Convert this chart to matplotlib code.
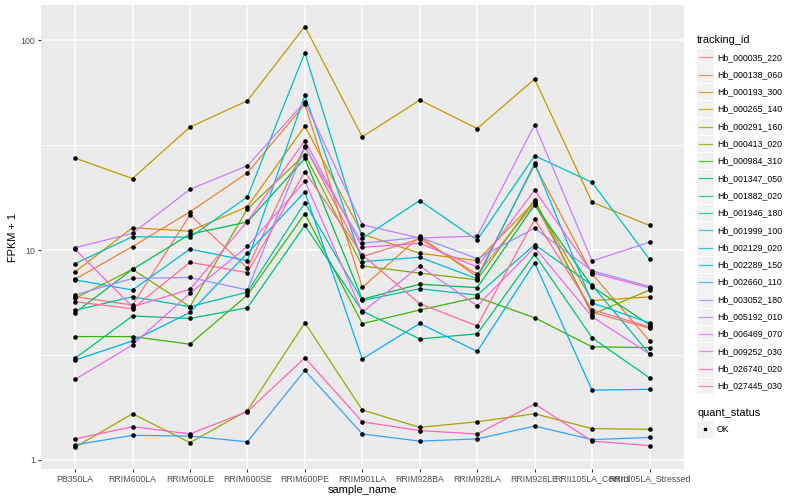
import numpy as np
import matplotlib.pyplot as plt
from matplotlib.lines import Line2D
from matplotlib.patches import Rectangle

plt.rcParams['font.family'] = ['Liberation Sans', 'DejaVu Sans']

samples = ['PB350LA', 'RRIM600LA', 'RRIM600LE', 'RRIM600SE', 'RRIM600PE',
           'RRIM901LA', 'RRIM928BA', 'RRIM928LA', 'RRIM928LE',
           'RRII105LA_Control', 'RRII105LA_Stressed']

# FPKM + 1 per gene, one value per sample
hb_000035_220 = [5.99, 5.47, 14.7, 8.2, 31.3, 9.3, 11.3, 7.67, 16.7, 5.05, 4.24]
hb_000138_060 = [7.25, 10.39, 15.2, 23.3, 49.5, 6.64, 11.6, 7.45, 25.4, 7.7, 3.69]
hb_000193_300 = [7.88, 12.77, 12.3, 16.1, 38.9, 11.9, 9.65, 8.9, 17.0, 5.74, 5.98]
hb_000265_140 = [27.4, 21.9, 38.5, 51.4, 116, 34.6, 51.8, 37.9, 65.2, 16.9, 13.1]
hb_000291_160 = [1.15, 1.66, 1.21, 1.72, 4.5, 1.73, 1.43, 1.52, 1.66, 1.41, 1.40]
hb_000413_020 = [5.89, 8.09, 5.37, 15.7, 28.5, 8.4, 7.76, 7.21, 17.4, 4.93, 6.45]
hb_000984_310 = [3.87, 3.87, 3.56, 6.1, 14.9, 4.46, 5.18, 5.95, 4.76, 3.46, 3.43]
hb_001347_050 = [5.03, 8.09, 11.9, 13.6, 27.3, 5.83, 6.87, 6.62, 16.4, 6.7, 4.4]
hb_001882_020 = [3.05, 4.85, 4.72, 5.31, 13.1, 5.12, 3.77, 3.99, 9.54, 3.82, 2.46]
hb_001946_180 = [5.16, 5.99, 5.37, 6.3, 16.8, 5.75, 6.54, 6.1, 10.6, 6.8, 3.2]
hb_001999_100 = [8.61, 11.57, 11.5, 17.9, 87, 11.37, 17.2, 11.14, 28.1, 21.0, 9.03]
hb_002129_020 = [7.21, 6.45, 10.1, 8.9, 54.7, 8.8, 9.24, 7.3, 25.9, 5.6, 4.5]
hb_002289_150 = [2.99, 3.69, 5.04, 9.65, 18.9, 3.03, 4.47, 3.29, 8.7, 2.15, 2.17]
hb_002660_110 = [1.18, 1.31, 1.30, 1.22, 2.67, 1.33, 1.23, 1.26, 1.45, 1.25, 1.28]
hb_003052_180 = [6.11, 7.33, 7.4, 6.45, 30.9, 10.77, 11.5, 9.1, 12.7, 7.96, 6.7]
hb_005192_010 = [10.26, 12.01, 19.45, 25.2, 50.8, 13.2, 11.4, 11.65, 39.5, 8.87, 10.9]
hb_006469_070 = [2.42, 3.53, 6.22, 10.4, 21.3, 5.05, 8.4, 5.42, 10.3, 4.81, 3.2]
hb_009252_030 = [10.08, 5.37, 6.5, 13.7, 33.2, 10.3, 10.77, 8.3, 19.3, 7.8, 6.6]
hb_026740_020 = [1.26, 1.44, 1.33, 1.70, 3.07, 1.52, 1.38, 1.33, 1.85, 1.23, 1.17]
hb_027445_030 = [5.67, 5.25, 8.74, 7.8, 23.6, 9.48, 5.55, 4.35, 14.0, 5.2, 4.3]

tracking_ids = ['Hb_000035_220', 'Hb_000138_060', 'Hb_000193_300', 'Hb_000265_140',
                'Hb_000291_160', 'Hb_000413_020', 'Hb_000984_310', 'Hb_001347_050',
                'Hb_001882_020', 'Hb_001946_180', 'Hb_001999_100', 'Hb_002129_020',
                'Hb_002289_150', 'Hb_002660_110', 'Hb_003052_180', 'Hb_005192_010',
                'Hb_006469_070', 'Hb_009252_030', 'Hb_026740_020', 'Hb_027445_030']
series = [hb_000035_220, hb_000138_060, hb_000193_300, hb_000265_140,
          hb_000291_160, hb_000413_020, hb_000984_310, hb_001347_050,
          hb_001882_020, hb_001946_180, hb_001999_100, hb_002129_020,
          hb_002289_150, hb_002660_110, hb_003052_180, hb_005192_010,
          hb_006469_070, hb_009252_030, hb_026740_020, hb_027445_030]

# ggplot default hue palette for 20 levels
colors = ['#F8766D', '#EA8331', '#D89000', '#C09B00', '#A3A500', '#7CAE00',
          '#39B600', '#00BB4E', '#00BF7D', '#00C1A3', '#00BFC4', '#00BAE0',
          '#00B0F6', '#35A2FF', '#9590FF', '#C77CFF', '#E76BF3', '#FA62DB',
          '#FF62BC', '#FF6C91']

fig = plt.figure(figsize=(8, 5), dpi=100)
ax = fig.add_axes([40.6 / 800, 31 / 500, 643.4 / 800, 464 / 500])
ax.set_facecolor('#EBEBEB')

x = np.arange(len(samples))
for vals, col in zip(series, colors):
    ax.plot(x, vals, color=col, lw=0.9, zorder=3)
for vals in series:
    ax.plot(x, vals, 'o', color='black', ms=2.3, zorder=4, lw=0)

ax.set_yscale('log')
ax.set_ylim(10 ** -0.043, 10 ** 2.167)
ax.set_xlim(-0.6, len(samples) - 0.4)

# grid: majors at decades, minors at half decades, like ggplot
for v in [1, 10, 100]:
    ax.axhline(v, color='white', lw=1.1, zorder=1)
for v in [10 ** 0.5, 10 ** 1.5]:
    ax.axhline(v, color='white', lw=0.55, zorder=1)
for xi in x:
    ax.axvline(xi, color='white', lw=1.1, zorder=1)

ax.set_yticks([1, 10, 100])
ax.set_yticklabels(['1', '10', '100'])
ax.yaxis.set_minor_locator(plt.NullLocator())
ax.set_xticks(x)
ax.set_xticklabels(samples)
ax.tick_params(axis='both', colors='#333333', labelcolor='#4D4D4D',
               labelsize=6.3, length=2.5, width=0.8, pad=1.5)
for s in ax.spines.values():
    s.set_visible(False)
ax.set_xlabel('sample_name', fontsize=7.9, labelpad=1)
ax.set_ylabel('FPKM + 1', fontsize=7.9, labelpad=2)

# legends drawn in a pixel-space overlay
lg = fig.add_axes([0, 0, 1, 1])
lg.set_xlim(0, 800)
lg.set_ylim(500, 0)
lg.axis('off')
lg.text(697, 40, 'tracking_id', fontsize=7.9, va='center', ha='left')
for i, (name, col) in enumerate(zip(tracking_ids, colors)):
    yc = 57.3 + i * 17.3
    lg.add_patch(Rectangle((697, yc - 8.3), 16.5, 16.6, color='#F2F2F2', lw=0))
    lg.add_line(Line2D([698.5, 711.5], [yc, yc], color=col, lw=0.9, alpha=0.8))
    lg.text(717, yc, name, fontsize=6.3, va='center', ha='left')
lg.text(697, 412.7, 'quant_status', fontsize=7.9, va='center', ha='left')
lg.add_patch(Rectangle((697, 429.3 - 8.3), 16.5, 16.6, color='#F2F2F2', lw=0))
lg.plot([705], [429.3], 's', color='black', ms=2.0)
lg.text(717, 429.3, 'OK', fontsize=6.3, va='center', ha='left')

fig.savefig('out.png', dpi=100)
